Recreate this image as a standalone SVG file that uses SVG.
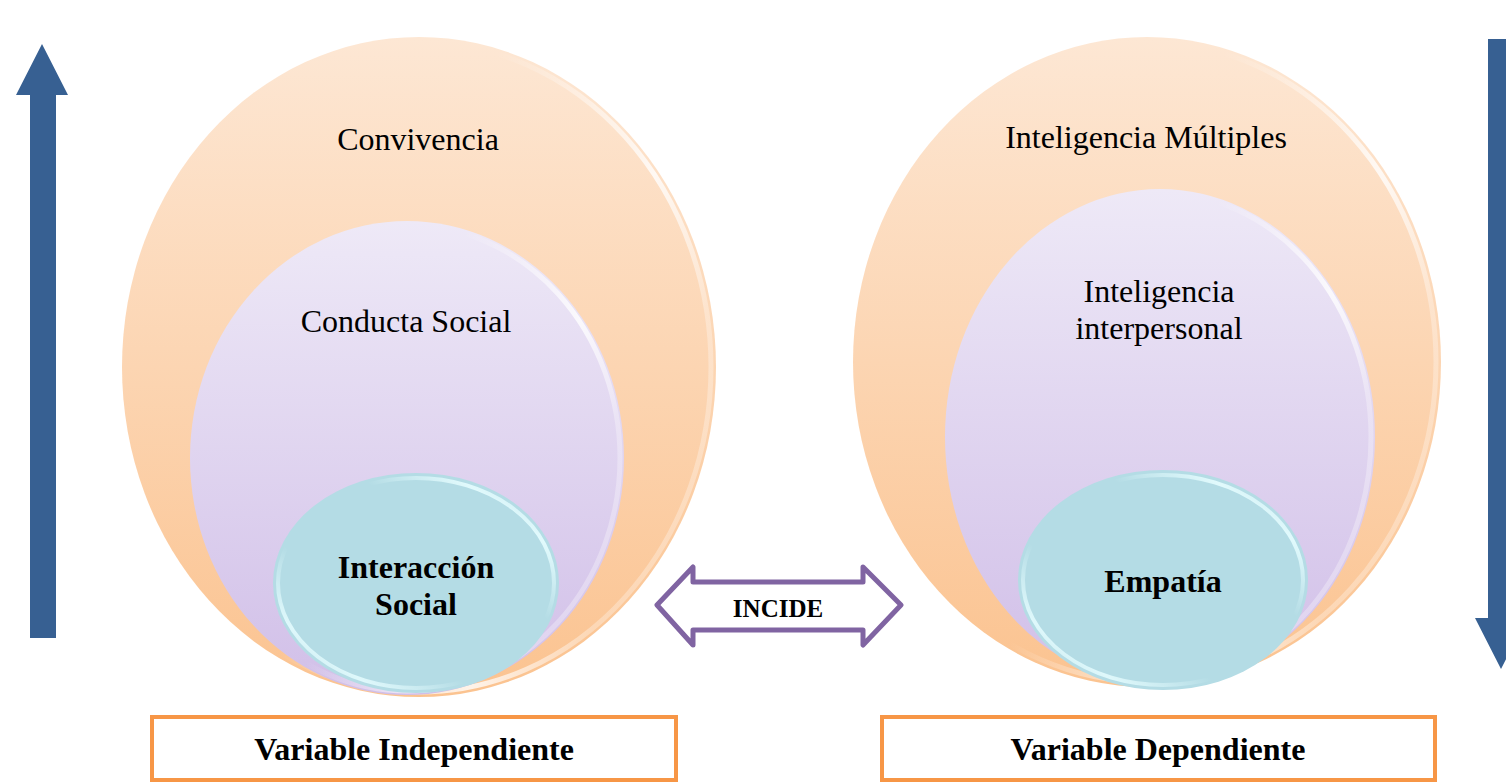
<svg xmlns="http://www.w3.org/2000/svg" width="1506" height="783" viewBox="0 0 1506 783">
<defs>
<linearGradient id="peach" x1="0" y1="0" x2="0" y2="1">
<stop offset="0" stop-color="#FDE7D4"/>
<stop offset="1" stop-color="#FBC390"/>
</linearGradient>
<linearGradient id="lav" x1="0" y1="0" x2="0" y2="1">
<stop offset="0" stop-color="#EEE9F7"/>
<stop offset="1" stop-color="#D1BFE8"/>
</linearGradient>
<linearGradient id="rim" x1="0" y1="0" x2="1" y2="0.4">
<stop offset="0.55" stop-color="#FFFFFF" stop-opacity="0"/>
<stop offset="0.85" stop-color="#FFFFFF" stop-opacity="0.8"/>
<stop offset="1" stop-color="#FFFFFF" stop-opacity="0.3"/>
</linearGradient>
<linearGradient id="rim2" x1="1" y1="0" x2="0" y2="1">
<stop offset="0" stop-color="#E6FDFF" stop-opacity="0"/>
<stop offset="0.17" stop-color="#E6FDFF" stop-opacity="0.9"/>
<stop offset="0.35" stop-color="#E6FDFF" stop-opacity="0"/>
<stop offset="0.65" stop-color="#E6FDFF" stop-opacity="0"/>
<stop offset="0.83" stop-color="#E6FDFF" stop-opacity="0.85"/>
<stop offset="1" stop-color="#E6FDFF" stop-opacity="0"/>
</linearGradient>
</defs>
<style>
.big{fill:url(#peach);}
.mid{fill:url(#lav);}
.small{fill:#B4DCE5;}
.rim{fill:none;stroke:url(#rim);stroke-width:5;}
.rim2{fill:none;stroke:url(#rim2);stroke-width:4;}
.t{font-family:"Liberation Serif","Times New Roman",serif;font-size:32px;fill:#000;text-anchor:middle;}
.b{font-weight:bold;}
.box{fill:#FFFFFF;stroke:#F79646;stroke-width:4;}
.blue{fill:#376092;}
</style>
<g id="arrow-up"><polygon class="blue" points="42,44 68,95 56,95 56,638 30,638 30,95 16,95"/></g>
<g id="arrow-down"><polygon class="blue" points="1488,39 1514,39 1514,618 1527,618 1501,669 1475,618 1488,618"/></g>
<g id="node-convivencia">
<ellipse class="big" cx="419" cy="367" rx="297" ry="330"/>
<ellipse class="rim" cx="419" cy="367" rx="292" ry="325"/>
<text class="t" x="418" y="150">Convivencia</text>
</g>
<g id="node-conducta">
<ellipse class="mid" cx="407" cy="458" rx="217" ry="237"/>
<ellipse class="rim" cx="407" cy="458" rx="213" ry="233"/>
<text class="t" x="406" y="332">Conducta Social</text>
</g>
<g id="node-interaccion">
<ellipse class="small" cx="416" cy="583" rx="143" ry="110"/>
<ellipse class="rim2" cx="416" cy="583" rx="138" ry="105"/>
<text class="t b" x="416" y="578">Interacción</text>
<text class="t b" x="416" y="615">Social</text>
</g>
<g id="node-inteligencias">
<ellipse class="big" cx="1147" cy="362" rx="294" ry="325"/>
<ellipse class="rim" cx="1147" cy="362" rx="289" ry="320"/>
<text class="t" x="1146" y="148">Inteligencia Múltiples</text>
</g>
<g id="node-interpersonal">
<ellipse class="mid" cx="1160" cy="437" rx="215" ry="248"/>
<ellipse class="rim" cx="1160" cy="437" rx="211" ry="244"/>
<text class="t" x="1159" y="302">Inteligencia</text>
<text class="t" x="1159" y="339">interpersonal</text>
</g>
<g id="node-empatia">
<ellipse class="small" cx="1163" cy="580" rx="145" ry="110"/>
<ellipse class="rim2" cx="1163" cy="580" rx="140" ry="105"/>
<text class="t b" x="1163" y="592">Empatía</text>
</g>
<g id="connectors">
<polygon points="657,605 693,567 693,582 863,582 863,567 901,605 863,645 863,630 693,630 693,645" fill="#FFFFFF" stroke="#8064A2" stroke-width="5" stroke-linejoin="round"/>
<text class="t b" x="778" y="617" style="font-size:25px">INCIDE</text>
</g>
<g id="box-independiente">
<rect class="box" x="152" y="717" width="524" height="63"/>
<text class="t b" x="414" y="760">Variable Independiente</text>
</g>
<g id="box-dependiente">
<rect class="box" x="882" y="717" width="553" height="63"/>
<text class="t b" x="1158" y="760">Variable Dependiente</text>
</g>
</svg>
